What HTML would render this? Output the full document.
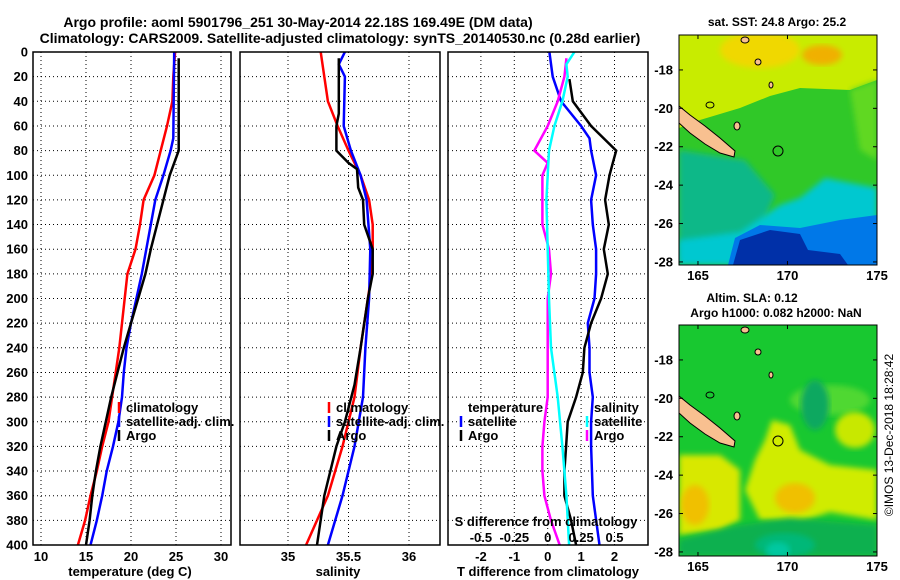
<!DOCTYPE html>
<html><head><meta charset="utf-8"><style>
body{margin:0;background:#fff}
svg{display:block;font-family:"Liberation Sans",sans-serif;font-weight:bold}
</style></head><body>
<svg id="c" width="900" height="580" xmlns="http://www.w3.org/2000/svg">
<text x="298" y="27" text-anchor="middle" font-size="14">Argo profile: aoml 5901796_251 30-May-2014 22.18S 169.49E (DM data)</text>
<text x="340" y="43" text-anchor="middle" font-size="14">Climatology: CARS2009. Satellite-adjusted climatology: synTS_20140530.nc (0.28d earlier)</text>
<defs>
<clipPath id="m1"><rect x="679" y="35" width="198" height="230"/></clipPath>
<clipPath id="m2"><rect x="679" y="325" width="198" height="231"/></clipPath>
<clipPath id="p1"><rect x="33" y="52" width="198" height="493"/></clipPath>
<clipPath id="p2"><rect x="240" y="52" width="200" height="493"/></clipPath>
<clipPath id="p3"><rect x="448" y="52" width="200" height="493"/></clipPath>
<filter id="bl"><feGaussianBlur stdDeviation="3"/></filter>
</defs>
<g id="map1" clip-path="url(#m1)">
<rect x="679" y="35" width="198" height="230" fill="#30c828"/>
<polygon points="679,35 877,35 877,80 850,90 800,88 770,96 740,108 700,120 679,128" fill="#c8ec00"/>
<ellipse cx="760" cy="50" rx="40" ry="18" fill="#f0d800" filter="url(#bl)"/>
<ellipse cx="822" cy="55" rx="20" ry="10" fill="#f0b000" filter="url(#bl)"/>
<polygon points="850,90 877,80 877,160 860,150" fill="#60d820" filter="url(#bl)"/>
<polygon points="679,150 745,160 775,195 760,230 679,262" fill="#10b888" filter="url(#bl)"/>
<polygon points="740,232 780,205 800,198 825,178 877,188 877,265 679,265 679,240" fill="#00c8d0" filter="url(#bl)"/>
<polygon points="728,265 735,238 760,225 800,228 840,220 877,215 877,265" fill="#0078e8"/>
<polygon points="733,265 740,240 770,230 800,234 808,250 840,254 848,265" fill="#0030a8"/>
<polygon points="679,106 690,115 705,126 720,138 735,151 734,157 720,153 705,144 690,133 679,123" fill="#f8c090" stroke="#000" stroke-width="1"/>
<ellipse cx="745" cy="40" rx="4" ry="3" fill="#f8c090" stroke="#000"/>
<ellipse cx="758" cy="62" rx="3" ry="3" fill="#f8c090" stroke="#000"/>
<ellipse cx="771" cy="85" rx="2" ry="3" fill="#f8c090" stroke="#000"/>
<ellipse cx="710" cy="105" rx="4" ry="3" fill="none" stroke="#000"/>
<ellipse cx="737" cy="126" rx="3" ry="4" fill="#f8c090" stroke="#000"/>
<circle cx="778" cy="151" r="5" fill="none" stroke="#000"/>
</g>
<rect x="679" y="35" width="198" height="230" fill="none" stroke="#000"/>
<g id="map2" clip-path="url(#m2)">
<rect x="679" y="325" width="198" height="231" fill="#18c830"/>
<ellipse cx="830" cy="400" rx="40" ry="15" fill="#50d830" filter="url(#bl)"/>
<ellipse cx="815" cy="405" rx="14" ry="25" fill="#10a860" filter="url(#bl)"/>
<polygon points="679,455 720,455 740,470 740,520 720,530 679,535" fill="#d8e800" filter="url(#bl)"/>
<ellipse cx="695" cy="505" rx="14" ry="20" fill="#f0c000" filter="url(#bl)"/>
<polygon points="765,440 772,420 790,425 800,450 830,465 877,470 877,520 830,512 800,522 760,520 745,490 755,460" fill="#d0ec00" filter="url(#bl)"/>
<ellipse cx="795" cy="498" rx="20" ry="15" fill="#f0c000" filter="url(#bl)"/>
<ellipse cx="855" cy="430" rx="20" ry="18" fill="#c8e800" filter="url(#bl)"/>
<polygon points="740,525 790,518 877,525 877,556 679,556 679,540" fill="#10b050" filter="url(#bl)"/>
<ellipse cx="785" cy="545" rx="30" ry="12" fill="#00b878" filter="url(#bl)"/>
<ellipse cx="778" cy="550" rx="12" ry="8" fill="#00c8a0" filter="url(#bl)"/>
<polygon points="679,396 690,405 705,416 720,428 735,441 734,447 720,443 705,434 690,423 679,413" fill="#f8c090" stroke="#000" stroke-width="1"/>
<ellipse cx="745" cy="330" rx="4" ry="3" fill="#f8c090" stroke="#000"/>
<ellipse cx="758" cy="352" rx="3" ry="3" fill="#f8c090" stroke="#000"/>
<ellipse cx="771" cy="375" rx="2" ry="3" fill="#f8c090" stroke="#000"/>
<ellipse cx="710" cy="395" rx="4" ry="3" fill="none" stroke="#000"/>
<ellipse cx="737" cy="416" rx="3" ry="4" fill="#f8c090" stroke="#000"/>
<circle cx="778" cy="441" r="5" fill="none" stroke="#000"/>
</g>
<rect x="679" y="325" width="198" height="231" fill="none" stroke="#000"/>
<text x="777" y="26" text-anchor="middle" font-size="12">sat. SST: 24.8 Argo: 25.2</text>
<text x="752" y="302" text-anchor="middle" font-size="12">Altim. SLA: 0.12</text>
<text x="776" y="317" text-anchor="middle" font-size="12">Argo h1000: 0.082 h2000: NaN</text>
<text transform="translate(893,435) rotate(-90)" text-anchor="middle" font-size="12" font-weight="normal">©IMOS 13-Dec-2018 18:28:42</text>
</svg>
<script>
const depthTicks=[0,20,40,60,80,100,120,140,160,180,200,220,240,260,280,300,320,340,360,380,400];
const tempTicks=[10,15,20,25,30];
const salTicks=[35,35.5,36];
const tdTicks=[-2,-1,0,1,2];
const sdTickLabels=["-0.5","-0.25","0","0.25","0.5"];
const sdTicks=[-0.5,-0.25,0,0.25,0.5];
const latTicks=[-18,-20,-22,-24,-26,-28];
const lonTicks=[165,170,175];
// temperature profiles: [depth, value]
const tempClim=[[0,24.9],[20,24.7],[40,24.6],[60,24],[80,23.3],[100,22.6],[120,21.4],[140,21],[160,20.5],[180,19.6],[200,19.3],[220,19],[240,18.7],[260,18.3],[280,17.9],[300,17.5],[320,16.8],[340,16.2],[360,15.5],[380,14.9],[400,14.1]];
const tempSat=[[0,24.8],[70,24.7],[80,24.4],[100,23.6],[120,22.7],[140,22.2],[160,21.7],[180,21.2],[200,20.6],[220,20],[240,19.5],[260,19.2],[280,19],[300,18.6],[320,18],[340,17.3],[360,16.8],[380,16.2],[400,15.5]];
const tempArgo=[[5,25.3],[80,25.3],[90,24.8],[100,24.3],[120,23.6],[140,22.9],[160,22.2],[180,21.6],[200,20.8],[220,20],[240,19.2],[260,18.5],[280,17.8],[300,17.2],[320,16.6],[340,16.1],[360,15.7],[380,15.4],[400,15]];
const salClim=[[0,35.27],[40,35.33],[60,35.41],[80,35.5],[100,35.6],[120,35.67],[140,35.7],[160,35.7],[180,35.69],[200,35.66],[240,35.6],[280,35.55],[320,35.45],[360,35.33],[400,35.15]];
const salSat=[[0,35.47],[10,35.42],[20,35.47],[60,35.46],[80,35.52],[100,35.6],[120,35.65],[160,35.68],[200,35.67],[240,35.64],[280,35.62],[320,35.55],[360,35.45],[400,35.33]];
const salArgo=[[5,35.42],[50,35.42],[60,35.4],[80,35.4],[90,35.5],[95,35.57],[110,35.58],[120,35.62],[140,35.63],[160,35.7],[180,35.7],[200,35.66],[240,35.6],[270,35.55],[300,35.47],[320,35.4],[360,35.3],[400,35.24]];
const tdArgo=[[22,0.65],[40,0.75],[60,1.3],[80,2.05],[90,1.95],[100,1.85],[120,1.72],[140,1.83],[160,1.68],[180,1.8],[200,1.6],[220,1.3],[240,1.1],[260,1.05],[280,0.85],[300,0.6],[320,0.55],[340,0.5],[360,0.5],[380,0.7],[400,0.85]];
const tdSat=[[0,0.05],[20,0.15],[40,0.4],[60,1.0],[70,1.25],[80,1.3],[100,1.45],[120,1.3],[140,1.35],[160,1.45],[180,1.45],[200,1.4],[220,1.2],[240,1.25],[260,1.25],[280,1.35],[300,1.3],[320,1.3],[360,1.35],[400,1.55]];
const sdArgo=[[5,0.14],[20,0.125],[40,0.075],[60,0],[80,-0.1],[90,0],[100,-0.04],[120,-0.04],[140,-0.04],[160,0.01],[180,0.025],[200,0],[240,0],[280,0],[300,-0.025],[320,-0.04],[340,-0.04],[360,-0.025],[380,0.025],[400,0.09]];
const sdSat=[[0,0.2],[10,0.14],[20,0.15],[40,0.11],[60,0.05],[80,0.01],[100,0],[120,-0.01],[160,0],[200,0.01],[240,0.025],[280,0.075],[320,0.11],[360,0.14],[400,0.16]];

const svg=document.getElementById('c');
const NS='http://www.w3.org/2000/svg';
function mk(tag,attrs,parent){const e=document.createElementNS(NS,tag);for(const k in attrs)e.setAttribute(k,attrs[k]);(parent||svg).appendChild(e);return e;}
const y=d=>52+d*493/400;
const xT=t=>41+(t-10)*9;
const xS=s=>288+(s-35)*121;
const xD=t=>547.7+t*33.4;
const xSD=s=>xD(s*4);
const panels=[{x0:33,x1:231,clip:'p1',name:'temperature-panel'},{x0:240,x1:440,clip:'p2',name:'salinity-panel'},{x0:448,x1:648,clip:'p3',name:'difference-panel'}];
function grid(p,xs){
  const g=mk('g',{});
  
  
  depthTicks.slice(1,-1).forEach(d=>mk('line',{x1:p.x0,x2:p.x1,y1:y(d),y2:y(d),stroke:'#000','stroke-width':1,'stroke-dasharray':'1,3'},g));
  xs.forEach(x=>mk('line',{x1:x,x2:x,y1:52,y2:545,stroke:'#000','stroke-width':1,'stroke-dasharray':'1,3'},g));
}
grid(panels[0],tempTicks.map(xT));
grid(panels[1],salTicks.map(xS));
grid(panels[2],tdTicks.map(xD));
function line(data,fx,color,clip,name){
  const pts=data.map(p=>fx(p[1]).toFixed(1)+','+y(p[0]).toFixed(1)).join(' ');
  const e=mk('polyline',{points:pts,fill:'none',stroke:color,'stroke-width':2.5,'clip-path':'url(#'+clip+')'});
  
  
}
line(tempClim,xT,'#f00','p1','temp-climatology-line');
line(tempSat,xT,'#00f','p1','temp-satellite-line');
line(tempArgo,xT,'#000','p1','temp-argo-line');
line(salClim,xS,'#f00','p2','sal-climatology-line');
line(salSat,xS,'#00f','p2','sal-satellite-line');
line(salArgo,xS,'#000','p2','sal-argo-line');
line(tdSat,xD,'#00f','p3','tdiff-satellite-line');
line(tdArgo,xD,'#000','p3','tdiff-argo-line');
line(sdArgo,xSD,'#f0f','p3','sdiff-argo-line');
line(sdSat,xSD,'#0ff','p3','sdiff-satellite-line');
panels.forEach(p=>{
  const r=mk('rect',{x:p.x0,y:52,width:p.x1-p.x0,height:493,fill:'none',stroke:'#000','stroke-width':1.5});
  
  
});
function txt(s,x,yy,anchor,size,name){
  const e=mk('text',{x:x,y:yy,'text-anchor':anchor,'font-size':size});
  e.textContent=s;
  
  
  return e;
}
depthTicks.forEach(d=>txt(String(d),28,y(d)+4.5,'end',13,'depth-tick-label'));
tempTicks.forEach(t=>txt(String(t),xT(t),561,'middle',13,'temp-tick-label'));
salTicks.forEach(s=>txt(String(s),xS(s),561,'middle',13,'sal-tick-label'));
tdTicks.forEach(t=>txt(String(t),xD(t),561,'middle',13,'tdiff-tick-label'));
sdTicks.forEach((s,i)=>txt(sdTickLabels[i],xSD(s),542,'middle',13,'sdiff-tick-label'));
txt('temperature (deg C)',130,576,'middle',13,'temp-axis-title');
txt('salinity',338,576,'middle',13,'sal-axis-title');
txt('T difference from climatology',548,576,'middle',13,'tdiff-axis-title');
txt('S difference from climatology',546,526,'middle',13,'sdiff-axis-title');
function leg(x,yy,color,label,name){
  if(color){const m=mk('line',{x1:x,x2:x,y1:yy-10,y2:yy+1,stroke:color,'stroke-width':2.5});
    
    }
  txt(label,x+7,yy,'start',13,name);
}
leg(119,412,'#f00','climatology','legend-climatology');
leg(119,426,'#00f','satellite-adj. clim.','legend-satellite');
leg(119,440,'#000','Argo','legend-argo');
leg(329,412,'#f00','climatology','legend-sal-climatology');
leg(329,426,'#00f','satellite-adj. clim.','legend-sal-satellite');
leg(329,440,'#000','Argo','legend-sal-argo');
leg(461,412,null,'temperature','legend-tdiff-header');
leg(461,426,'#00f','satellite','legend-tdiff-satellite');
leg(461,440,'#000','Argo','legend-tdiff-argo');
leg(587,412,null,'salinity','legend-sdiff-header');
leg(587,426,'#0ff','satellite','legend-sdiff-satellite');
leg(587,440,'#f0f','Argo','legend-sdiff-argo');
const latY1=l=>35+(-16.18-l)*19.2;
const lonX=l=>679+(l-163.94)*17.9;
[[latY1,0,'sst'],[latY1,290,'sla']].forEach(([f,off,nm])=>{
  latTicks.forEach(l=>{
    const yy=f(l)+off;
    mk('line',{x1:679,x2:683,y1:yy,y2:yy,stroke:'#000'});
    mk('line',{x1:873,x2:877,y1:yy,y2:yy,stroke:'#000'});
    txt(String(l),673,yy+4.5,'end',13,nm+'-lat-label');
  });
  const bot=off?556:265, top=off?325:35;
  lonTicks.forEach(l=>{
    const xx=lonX(l);
    mk('line',{x1:xx,x2:xx,y1:bot,y2:bot-4,stroke:'#000'});
    mk('line',{x1:xx,x2:xx,y1:top,y2:top+4,stroke:'#000'});
    txt(String(l),xx,bot+15,'middle',13,nm+'-lon-label');
  });
});
</script>
</body></html>
